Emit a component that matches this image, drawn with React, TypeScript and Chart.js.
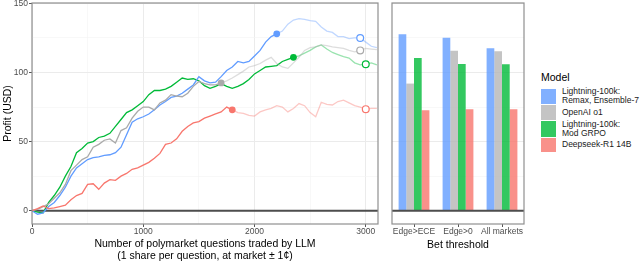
import React, { useEffect, useRef } from "react";
import { Chart, registerables } from "chart.js";
Chart.register(...registerables);

// ---------- DATA ----------
const questions = [
  0, 50, 100, 150, 200, 250, 300, 350, 400, 450, 500, 550, 600, 650, 700, 750,
  800, 850, 900, 950, 1000, 1050, 1100, 1150, 1200, 1250, 1300, 1350, 1400, 1450,
  1500, 1550, 1600, 1650, 1700, 1750, 1800, 1850, 1900, 1950, 2000, 2050, 2100,
  2150, 2200, 2250, 2300, 2350, 2400, 2450, 2500, 2550, 2600, 2650, 2700, 2750,
  2800, 2850, 2900, 2950, 3000, 3050, 3100,
];

const profitRemax = [
  0, -2.5, -1.5, 3, 6, 11, 17, 25, 31, 34, 37, 38.5, 39, 40, 40.5, 42,
  46, 55, 64, 66.5, 68, 70, 73, 76.5, 79, 82, 83, 85, 88, 91,
  97, 94, 92.5, 93, 97, 101.5, 104, 108, 107, 108, 112, 116, 122,
  126, 128, 130, 135, 138, 139, 138.5, 137.5, 137, 133, 130, 129, 126,
  126, 124.5, 125, 125, 122, 119, 118,
];
const profitO1 = [
  0, 1, 3, 5, 9, 13, 19, 29, 33, 37, 39, 46, 48, 51, 52, 49,
  58, 60, 67, 72, 75, 75, 73, 78, 80, 84, 83, 82.5, 85, 90,
  93.5, 92, 91, 91, 92.5, 94, 96, 98.5, 101, 104, 105, 106.5, 109,
  111, 106.5, 104, 103, 107, 111, 116, 118, 118.5, 120, 119.5, 118.5, 118,
  117.5, 116, 115, 116, 117.5, 117, 116.5,
];
const profitGrpo = [
  0, -1, -1.5, 6, 11, 17, 25, 32, 42, 45, 49, 50, 53, 54, 56, 61,
  66, 71, 73, 76, 79, 84, 87, 87, 88, 90, 93, 96, 95, 95.5,
  94, 90.5, 88.5, 90, 92, 90, 88.5, 90, 92, 95, 99, 101.5, 104,
  104.5, 105, 108, 109.5, 111, 112, 114, 116, 118.5, 120, 117, 114.5, 113,
  111.5, 110.5, 107, 105.5, 106, 107, 105.5,
];
const profitDeepseek = [
  0, 1.5, 3.5, 1.5, 2, 3, 4, 8, 11, 12.5, 19, 19.5, 15.5, 20, 22.5, 22,
  25, 27, 30, 31, 33, 35, 38, 41.5, 48, 49, 52, 57.5, 61, 63.5,
  64.5, 67, 68.5, 70, 71.5, 75, 73, 71, 70.5, 69, 68.5, 71.5, 73,
  74, 76, 75, 71.5, 74, 77.5, 76, 71, 68, 78.5, 77, 76.5, 79,
  80, 78, 76, 75, 73.5, 74, 74,
];

// question counts where the filled dot and the open circle sit
const filledAt = { remax: 2200, o1: 1700, grpo: 2350, deepseek: 1800 };
const openAt = { remax: 2950, o1: 2950, grpo: 3000, deepseek: 3000 };

const modelLabels = [
  ["Lightning-100k:", "Remax, Ensemble-7"],
  ["OpenAI o1"],
  ["Lightning-100k:", "Mod GRPO"],
  ["Deepseek-R1 14B"],
];

const thresholds = ["Edge>ECE", "Edge>0", "All markets"];
const barRemax = [127.6, 125.2, 117.5];
const barO1 = [92, 115.8, 115.3];
const barGrpo = [110.5, 106.1, 105.9];
const barDeepseek = [72.7, 73.4, 73.4];

const yTicks = [0, 25, 50, 75, 100, 125, 150];
const xTicks = [0, 500, 1000, 1500, 2000, 2500, 3000];

// ---------- STYLE ----------
const FONT = "'Liberation Sans', Arial, sans-serif";
const C = {
  remax: [97, 156, 255],
  o1: [170, 170, 170],
  grpo: [0, 186, 56],
  deepseek: [248, 118, 109],
};
const rgba = (c: number[], a: number) => `rgba(${c[0]},${c[1]},${c[2]},${a})`;
const barC = {
  remax: "rgba(97,156,255,0.8)",
  o1: "rgba(181,181,181,0.8)",
  grpo: "rgba(0,186,56,0.8)",
  deepseek: "rgba(248,118,109,0.8)",
};
const Y_MIN = -9.6;
const Y_MAX = 150.3;

const panelPlugin = {
  id: "panel",
  beforeDatasetsDraw(chart: any) {
    const { ctx, chartArea: a, scales } = chart;
    if (chart.config.type === "line") {
      const y = scales.y.getPixelForValue(0);
      ctx.save();
      ctx.strokeStyle = "#4d4d4d";
      ctx.lineWidth = 2.2;
      ctx.beginPath();
      ctx.moveTo(a.left, y);
      ctx.lineTo(a.right, y);
      ctx.stroke();
      ctx.restore();
    }
  },
  afterDatasetsDraw(chart: any) {
    const { ctx, chartArea: a, scales } = chart;
    ctx.save();
    if (chart.config.type === "bar") {
      const y = scales.y.getPixelForValue(0);
      ctx.strokeStyle = "#4d4d4d";
      ctx.lineWidth = 2.2;
      ctx.beginPath();
      ctx.moveTo(a.left, y);
      ctx.lineTo(a.right, y);
      ctx.stroke();
    }
    ctx.strokeStyle = "#8f8f8f";
    ctx.lineWidth = 1.2;
    ctx.strokeRect(a.left, a.top, a.right - a.left, a.bottom - a.top);
    ctx.restore();
  },
};

const gridColor = (major: boolean) => (major ? "#ebebeb" : "#f3f3f3");

function lineDataset(key: keyof typeof C, values: number[]) {
  const col = C[key];
  const fIdx = questions.indexOf(filledAt[key]);
  const oIdx = questions.indexOf(openAt[key]);
  return {
    label: key,
    data: questions.map((q, i) => ({ x: q, y: values[i] })),
    borderColor: rgba(col, 1),
    borderWidth: 1.3,
    segment: {
      borderColor: (ctx: any) => (ctx.p0DataIndex >= fIdx ? rgba(col, 0.4) : rgba(col, 1)),
    },
    pointRadius: (ctx: any) => (ctx.dataIndex === fIdx || ctx.dataIndex === oIdx ? 3.4 : 0),
    pointBackgroundColor: (ctx: any) => (ctx.dataIndex === oIdx ? "#ffffff" : rgba(col, 1)),
    pointBorderColor: rgba(col, 1),
    pointBorderWidth: (ctx: any) => (ctx.dataIndex === oIdx ? 1.2 : 0),
    tension: 0,
  };
}

export default function App() {
  const lineRef = useRef<HTMLCanvasElement>(null);
  const barRef = useRef<HTMLCanvasElement>(null);

  useEffect(() => {
    const lineChart = new Chart(lineRef.current!, {
      type: "line",
      data: {
        datasets: [
          lineDataset("deepseek", profitDeepseek),
          lineDataset("o1", profitO1),
          lineDataset("remax", profitRemax),
          lineDataset("grpo", profitGrpo),
        ] as any,
      },
      options: {
        animation: false,
        responsive: false,
        devicePixelRatio: 1,
        layout: { padding: { top: 3, right: 8, left: 0, bottom: 0 } },
        plugins: { legend: { display: false }, tooltip: { enabled: false } },
        scales: {
          x: {
            type: "linear",
            min: 0,
            max: 3110,
            afterBuildTicks: (s: any) => {
              s.ticks = xTicks.map((v) => ({ value: v }));
            },
            afterFit: (s: any) => {
              s.height = 38;
              s.paddingLeft = 0;
              s.paddingRight = 0;
            },
            ticks: {
              autoSkip: false,
              maxRotation: 0,
              padding: 0,
              color: "#4d4d4d",
              font: { family: FONT, size: 8.5 },
              callback: (v: any) => (v % 1000 === 0 ? String(v) : ""),
            },
            grid: {
              color: (ctx: any) => gridColor(ctx.tick && ctx.tick.value % 1000 === 0),
              lineWidth: (ctx: any) => (ctx.tick && ctx.tick.value % 1000 === 0 ? 1 : 0.6),
              tickLength: 3,
              tickColor: (ctx: any) => (ctx.tick && ctx.tick.value % 1000 === 0 ? "#555" : "rgba(0,0,0,0)"),
              tickWidth: 1,
            },
            border: { display: false },
            title: {
              display: true,
              text: ["Number of polymarket questions traded by LLM", "(1 share per question, at market ± 1¢)"],
              color: "#000",
              font: { family: FONT, size: 10.5, lineHeight: 1.15 },
              padding: { top: 0, bottom: 0 },
            },
          },
          y: {
            type: "linear",
            min: Y_MIN,
            max: Y_MAX,
            afterBuildTicks: (s: any) => {
              s.ticks = yTicks.map((v) => ({ value: v }));
            },
            afterFit: (s: any) => {
              s.width = 32;
              s.paddingTop = 0;
              s.paddingBottom = 0;
            },
            ticks: {
              padding: 1,
              color: "#4d4d4d",
              font: { family: FONT, size: 8.5 },
              callback: (v: any) => (v % 50 === 0 ? String(v) : ""),
            },
            grid: {
              color: (ctx: any) => gridColor(ctx.tick && ctx.tick.value % 50 === 0),
              lineWidth: (ctx: any) => (ctx.tick && ctx.tick.value % 50 === 0 ? 1 : 0.6),
              tickLength: 3,
              tickColor: (ctx: any) => (ctx.tick && ctx.tick.value % 50 === 0 ? "#555" : "rgba(0,0,0,0)"),
              tickWidth: 1,
            },
            border: { display: false },
            title: {
              display: true,
              text: "Profit (USD)",
              color: "#000",
              font: { family: FONT, size: 10.5, lineHeight: 1.15 },
              padding: { top: 2, bottom: 0 },
            },
          },
        },
      },
      plugins: [panelPlugin],
    } as any);

    const barChart = new Chart(barRef.current!, {
      type: "bar",
      data: {
        labels: thresholds,
        datasets: [
          { label: modelLabels[0].join(" "), data: barRemax, backgroundColor: barC.remax },
          { label: modelLabels[1].join(" "), data: barO1, backgroundColor: barC.o1 },
          { label: modelLabels[2].join(" "), data: barGrpo, backgroundColor: barC.grpo },
          { label: modelLabels[3].join(" "), data: barDeepseek, backgroundColor: barC.deepseek },
        ],
      },
      options: {
        animation: false,
        responsive: false,
        devicePixelRatio: 1,
        layout: { padding: { top: 3, right: 6, left: 6, bottom: 0 } },
        datasets: { bar: { categoryPercentage: 0.7, barPercentage: 1 } },
        plugins: { legend: { display: false }, tooltip: { enabled: false } },
        scales: {
          x: {
            afterFit: (s: any) => {
              s.height = 38;
              s.paddingLeft = 0;
              s.paddingRight = 0;
            },
            ticks: {
              autoSkip: false,
              maxRotation: 0,
              padding: 0,
              color: "#4d4d4d",
              font: { family: FONT, size: 8.5 },
            },
            grid: {
              offset: false,
              drawOnChartArea: false,
              color: "rgba(0,0,0,0)",
              tickLength: 3,
              tickColor: "#555",
              tickWidth: 1,
            },
            border: { display: false },
            title: {
              display: true,
              text: "Bet threshold",
              color: "#000",
              font: { family: FONT, size: 10.5, lineHeight: 1.15 },
              padding: { top: 0, bottom: 11 },
            },
          },
          y: {
            type: "linear",
            min: Y_MIN,
            max: Y_MAX,
            afterBuildTicks: (s: any) => {
              s.ticks = yTicks.map((v) => ({ value: v }));
            },
            afterFit: (s: any) => {
              s.width = 0;
              s.paddingTop = 0;
              s.paddingBottom = 0;
            },
            ticks: { display: false },
            grid: {
              color: (ctx: any) => gridColor(ctx.tick && ctx.tick.value % 50 === 0),
              lineWidth: (ctx: any) => (ctx.tick && ctx.tick.value % 50 === 0 ? 1 : 0.6),
              drawTicks: false,
            },
            border: { display: false },
          },
        },
      },
      plugins: [panelPlugin],
    } as any);

    return () => {
      lineChart.destroy();
      barChart.destroy();
    };
  }, []);

  const legendColors = [barC.remax, barC.o1, barC.grpo, barC.deepseek];
  const legendTops = [88, 104, 120, 137];
  const legendHeights = [16, 16, 17, 15];

  return (
    <div
      style={{
        position: "absolute",
        left: 0,
        top: 0,
        width: 640,
        height: 262,
        background: "#fff",
        fontFamily: FONT,
        overflow: "hidden",
      }}
    >
      <canvas
        ref={lineRef}
        width={386}
        height={262}
        style={{ position: "absolute", left: 0, top: 0, width: 386, height: 262 }}
      />
      <canvas
        ref={barRef}
        width={144}
        height={262}
        style={{ position: "absolute", left: 386, top: 0, width: 144, height: 262 }}
      />
      <div
        style={{
          position: "absolute",
          left: 541,
          top: 71,
          fontSize: 10.5,
          lineHeight: "12px",
          color: "#000",
        }}
      >
        Model
      </div>
      {modelLabels.map((lines, i) => (
        <div
          key={i}
          style={{
            position: "absolute",
            left: 541,
            top: legendTops[i],
            height: legendHeights[i],
            display: "flex",
            alignItems: "center",
          }}
        >
          <div
            style={{
              width: 15,
              height: legendHeights[i] - 1,
              background: legendColors[i],
              marginRight: 6,
              flex: "none",
            }}
          />
          <div style={{ fontSize: 8.5, lineHeight: "9px", color: "#1a1a1a", whiteSpace: "nowrap" }}>
            {lines.map((l, j) => (
              <div key={j}>{l}</div>
            ))}
          </div>
        </div>
      ))}
    </div>
  );
}
